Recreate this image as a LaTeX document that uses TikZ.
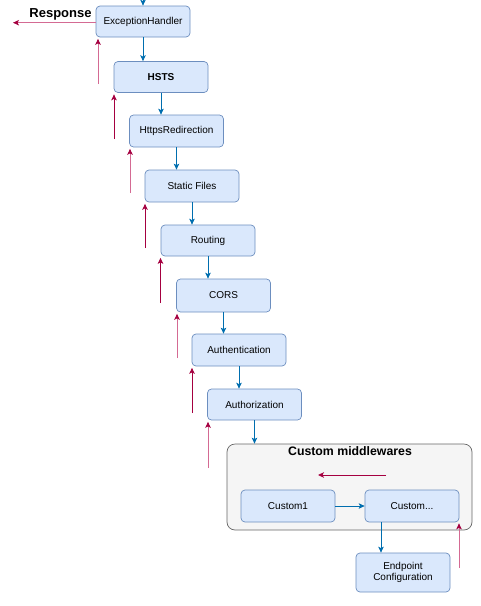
\documentclass[tikz,border=0pt]{standalone}
\usepackage{fontspec}
\setmainfont{Liberation Sans}
\usetikzlibrary{arrows.meta}
\definecolor{boxfill}{HTML}{DAE8FC}
\definecolor{boxline}{HTML}{6C8EBF}
\definecolor{contfill}{HTML}{F5F5F5}
\definecolor{contline}{HTML}{666666}
\definecolor{flowblue}{HTML}{006EAF}
\definecolor{respdark}{HTML}{A50040}
\definecolor{resppink}{HTML}{D46A93}
\tikzset{
  mw/.style={draw=boxline, fill=boxfill, rounded corners=4pt, line width=0.7pt,
    minimum width=94pt, minimum height=31pt, inner sep=0pt, font=\fontsize{10}{11.5}\selectfont, align=center},
  cont/.style={draw=contline, fill=contfill, rounded corners=8pt, line width=0.7pt,
    minimum width=245pt, minimum height=86pt, inner sep=0pt},
  flow/.style={draw=flowblue, line width=0.8pt, -{Stealth[length=6pt,width=5.5pt,inset=1.5pt]}},
  respd/.style={draw=respdark, line width=0.9pt, -{Stealth[length=6pt,width=5.5pt,inset=1.5pt]}},
  respp/.style={draw=resppink, line width=0.9pt, -{Stealth[length=6pt,width=5.5pt,inset=1.5pt,color=respdark]}},
}
\begin{document}
\begin{tikzpicture}[x=1pt,y=-1pt]
\useasboundingbox (0,0) rectangle (480,606);
% container
\node[cont] (cont) at (349.5,487) {};
\node[font=\bfseries\fontsize{12.3}{14}\selectfont] (conttitle) at (350,451.5) {Custom middlewares};
% middleware boxes
\node[mw] (eh) at (143,21.5) {ExceptionHandler};
\node[mw] (hsts) at (161,77) {\textbf{HSTS}};
\node[mw, minimum height=32pt] (https) at (176.5,131) {HttpsRedirection};
\node[mw, minimum height=32pt] (static) at (192,186) {Static Files};
\node[mw] (routing) at (208,240.5) {Routing};
\node[mw, minimum height=33pt] (cors) at (223.5,295.5) {CORS};
\node[mw, minimum height=32pt] (authn) at (239,350) {Authentication};
\node[mw] (authz) at (254.5,404.5) {Authorization};
\node[mw, minimum height=32pt] (c1) at (288,506) {Custom1};
\node[mw, minimum height=32pt] (cn) at (412,506) {Custom...};
\node[mw, minimum height=39pt] (ep) at (403,572.5) {Endpoint\\Configuration};
% response label
\node[font=\bfseries\fontsize{13}{15}\selectfont] (resp) at (60.5,14.3) {Response};
% request flow
\coordinate (in) at (143,0);
\draw[flow] (in) -- (eh.north);
\draw[flow] (eh.south) -- (eh.south |- hsts.north);
\draw[flow] (hsts.south) -- (hsts.south |- https.north);
\draw[flow] (https.south) -- (https.south |- static.north);
\draw[flow] (static.south) -- (static.south |- routing.north);
\draw[flow] (routing.south) -- (routing.south |- cors.north);
\draw[flow] (cors.south) -- (cors.south |- authn.north);
\draw[flow] (authn.south) -- (authn.south |- authz.north);
\draw[flow] (authz.south) -- (authz.south |- cont.north);
\draw[flow] (c1.east) -- (cn.west);
\coordinate (cnout) at (381,522);
\draw[flow] (cnout) -- (cnout |- ep.north);
% response flow
\coordinate (r0) at (13,22.7);
\draw[respp] (eh.west |- r0) -- (r0);
\coordinate (r1) at (98,84);
\draw[respp, shorten >=1.5pt] (r1) -- (r1 |- eh.south);
\coordinate (r2) at (114,139);
\draw[respd, shorten >=1.5pt] (r2) -- (r2 |- hsts.south);
\coordinate (r3) at (130,193);
\draw[respp, shorten >=1.5pt] (r3) -- (r3 |- https.south);
\coordinate (r4) at (145,248);
\draw[respd, shorten >=1.5pt] (r4) -- (r4 |- static.south);
\coordinate (r5) at (160.5,303);
\draw[respd, shorten >=1.5pt] (r5) -- (r5 |- routing.south);
\coordinate (r6) at (177,358);
\draw[respp, shorten >=1.5pt] (r6) -- (r6 |- cors.south);
\coordinate (r7) at (192,413);
\draw[respd, shorten >=1.5pt] (r7) -- (r7 |- authn.south);
\coordinate (r8) at (208,468);
\draw[respp, shorten >=1.5pt] (r8) -- (r8 |- authz.south);
\coordinate (r9a) at (386,475);
\coordinate (r9b) at (318,475);
\draw[respd] (r9a) -- (r9b);
\coordinate (r10) at (459,568);
\draw[respp, shorten >=1pt] (r10) -- (r10 |- cn.south);
\end{tikzpicture}
\end{document}
